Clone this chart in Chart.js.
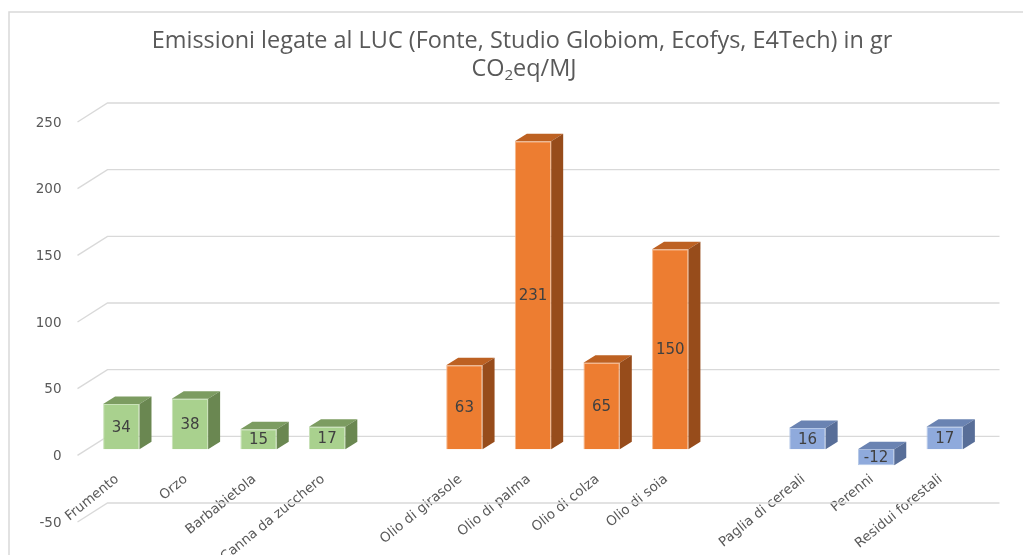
<!DOCTYPE html>
<html>
<head>
<meta charset="utf-8">
<script src="https://cdn.jsdelivr.net/npm/chart.js@4.4.1/dist/chart.umd.min.js"></script>
<style>
  html, body { margin: 0; padding: 0; background: #ffffff; }
  #wrap { width: 1023px; height: 555px; position: relative; }
</style>
</head>
<body>
<div id="wrap"><canvas id="grafico"></canvas></div>
<script>
// ---- dati ----
const categorie = [
  'Frumento', 'Orzo', 'Barbabietola', 'Canna da zucchero', '',
  'Olio di girasole', 'Olio di palma', 'Olio di colza', 'Olio di soia', '',
  'Paglia di cereali', 'Perenni', 'Residui forestali'
];
const valoriColture = [34, 38, 15, 17, null, null, null, null, null, null, null, null, null];
const valoriOli     = [null, null, null, null, null, 63, 231, 65, 150, null, null, null, null];
const valoriResidui = [null, null, null, null, null, null, null, null, null, null, 16, -12, 17];
const asseY = [-50, 0, 50, 100, 150, 200, 250];

const titolo1 = 'Emissioni legate al LUC (Fonte, Studio Globiom, Ecofys, E4Tech) in gr';

// colori: fronte, cima, lato, bordo
const verde   = ['#a9d18e', '#7c9c61', '#6a8751', '#c9e2b8'];
const arancio = ['#ed7d31', '#bd6122', '#974c1b', '#f6b98e'];
const blu     = ['#8faadc', '#6a83b2', '#586e98', '#b4c7e7'];

// prospettiva (obliqua)
const PROF_X = 12, PROF_Y = 7.5;      // profondita barre
const MURO_X = 20.5, MURO_Y = -13;    // parete di fondo rispetto al piano barre
const FRONTE_X = -9.5, FRONTE_Y = 6;  // bordo anteriore rispetto al piano barre

const stileGriglia = '#d9d9d9';
const stileTesto = '#595959';

const sfondo3d = {
  id: 'sfondo3d',
  beforeDraw(chart) {
    const ctx = chart.ctx;
    ctx.save();
    ctx.fillStyle = '#ffffff';
    ctx.fillRect(0, 0, chart.width, chart.height);
    // cornice
    ctx.strokeStyle = '#d9d9d9';
    ctx.lineWidth = 1.5;
    ctx.strokeRect(9, 12, chart.width + 20, chart.height + 20);

    // titolo
    ctx.fillStyle = stileTesto;
    ctx.textAlign = 'center';
    ctx.textBaseline = 'alphabetic';
    ctx.font = '20px "Open Sans"';
    const w = ctx.measureText(titolo1).width;
    const size = 20 * 741 / w;
    ctx.font = size + 'px "Open Sans"';
    ctx.fillText(titolo1, 522, 48);
    // seconda riga con pedice
    const a = 'CO', b = '2', c = 'eq/MJ';
    const fSmall = (size * 0.65) + 'px "Open Sans"';
    const fBig = size + 'px "Open Sans"';
    ctx.font = fBig;
    const wa = ctx.measureText(a).width, wc = ctx.measureText(c).width;
    ctx.font = fSmall;
    const wb = ctx.measureText(b).width;
    let x = 524 - (wa + wb + wc) / 2;
    ctx.textAlign = 'left';
    ctx.font = fBig; ctx.fillText(a, x, 76); x += wa;
    ctx.font = fSmall; ctx.fillText(b, x, 80); x += wb;
    ctx.font = fBig; ctx.fillText(c, x, 76);
    ctx.restore();
  },
  beforeDatasetsDraw(chart) {
    const ctx = chart.ctx;
    const yS = chart.scales.y;
    const { left, right } = chart.chartArea;
    ctx.save();
    ctx.strokeStyle = stileGriglia;
    ctx.lineWidth = 1.4;
    ctx.fillStyle = stileTesto;
    ctx.font = '13.5px "DejaVu Sans"';
    ctx.textAlign = 'right';
    ctx.textBaseline = 'middle';
    asseY.forEach(v => {
      const py = yS.getPixelForValue(v);
      ctx.beginPath();
      ctx.moveTo(left + FRONTE_X, py + FRONTE_Y);
      ctx.lineTo(left + MURO_X, py + MURO_Y);
      ctx.lineTo(right + MURO_X, py + MURO_Y);
      ctx.stroke();
      ctx.fillText(String(v), left + FRONTE_X - 16, py + FRONTE_Y + 1);
    });
    ctx.restore();
  },
  afterDatasetsDraw(chart) {
    const ctx = chart.ctx;
    ctx.save();
    chart.data.datasets.forEach((ds, i) => {
      const meta = chart.getDatasetMeta(i);
      const col = ds.colori3d;
      meta.data.forEach((bar, j) => {
        const v = ds.data[j];
        if (v === null || v === undefined) return;
        const { x, y, base, width } = bar.getProps(['x', 'y', 'base', 'width'], true);
        const l = x - width / 2, r = x + width / 2;
        const top = Math.min(y, base), bot = Math.max(y, base);
        // cima
        ctx.fillStyle = col[1];
        ctx.beginPath();
        ctx.moveTo(l, top);
        ctx.lineTo(l + PROF_X, top - PROF_Y);
        ctx.lineTo(r + PROF_X, top - PROF_Y);
        ctx.lineTo(r, top);
        ctx.closePath();
        ctx.fill();
        // lato
        ctx.fillStyle = col[2];
        ctx.beginPath();
        ctx.moveTo(r, top);
        ctx.lineTo(r + PROF_X, top - PROF_Y);
        ctx.lineTo(r + PROF_X, bot - PROF_Y);
        ctx.lineTo(r, bot);
        ctx.closePath();
        ctx.fill();
        // etichetta valore
        ctx.fillStyle = '#404040';
        ctx.font = '15px "DejaVu Sans"';
        ctx.textAlign = 'center';
        ctx.textBaseline = 'middle';
        ctx.fillText(String(v), x, (top + bot) / 2 + 1);
      });
    });
    ctx.restore();
  }
};

function serie(nome, valori, col) {
  return {
    label: nome,
    data: valori,
    backgroundColor: col[0],
    borderColor: col[3],
    borderWidth: 1,
    colori3d: col,
    grouped: false,
    categoryPercentage: 0.53,
    barPercentage: 1
  };
}

new Chart(document.getElementById('grafico'), {
  type: 'bar',
  data: {
    labels: categorie,
    datasets: [
      serie('Colture', valoriColture, verde),
      serie('Oli', valoriOli, arancio),
      serie('Residui', valoriResidui, blu)
    ]
  },
  options: {
    responsive: true,
    maintainAspectRatio: false,
    animation: false,
    events: [],
    layout: { padding: { left: 87, right: 44, top: 116, bottom: 39 } },
    plugins: {
      legend: { display: false },
      title: { display: false },
      tooltip: { enabled: false }
    },
    scales: {
      y: {
        display: false,
        min: -50,
        max: 250,
        ticks: { stepSize: 50 }
      },
      x: {
        position: { y: 0 },
        grid: { display: false, drawTicks: false },
        border: { display: false },
        ticks: {
          color: stileTesto,
          font: { family: 'DejaVu Sans', size: 13.5 },
          minRotation: 39,
          maxRotation: 39,
          padding: 22,
          labelOffset: -4,
          autoSkip: false
        }
      }
    }
  },
  plugins: [sfondo3d]
});
</script>
</body>
</html>
